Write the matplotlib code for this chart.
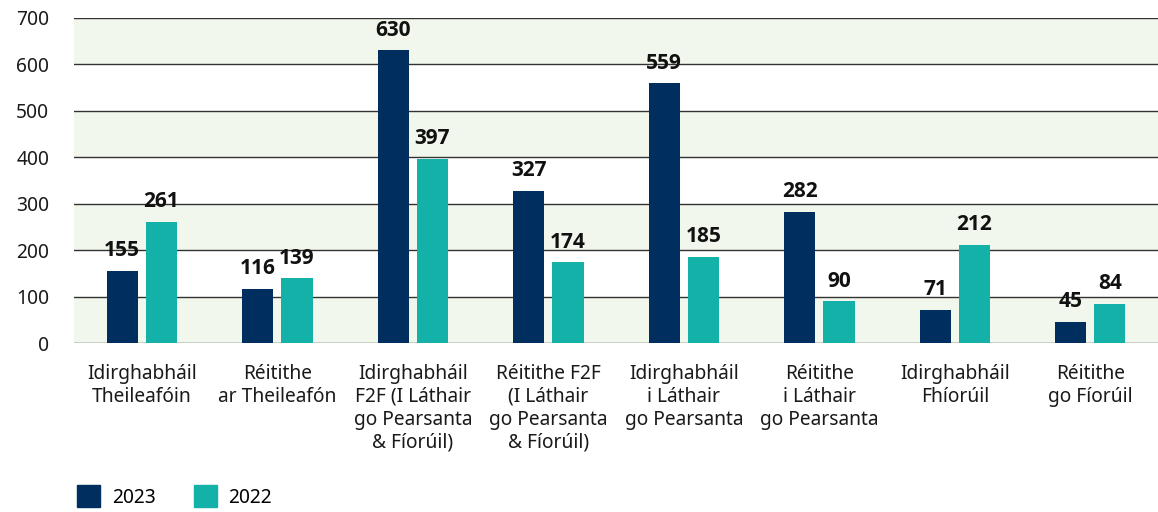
import numpy as np
import matplotlib
matplotlib.use('Agg')
from matplotlib import pyplot as plt
from matplotlib.patches import Patch

categories = [
    'Idirghabháil\nTheileafóin',
    'Réitithe\nar Theileafón',
    'Idirghabháil\nF2F (I Láthair\ngo Pearsanta\n& Fíorúil)',
    'Réitithe F2F\n(I Láthair\ngo Pearsanta\n& Fíorúil)',
    'Idirghabháil\ni Láthair\ngo Pearsanta',
    'Réitithe\ni Láthair\ngo Pearsanta',
    'Idirghabháil\nFhíorúil',
    'Réitithe\ngo Fíorúil',
]
values_2023 = [155, 116, 630, 327, 559, 282, 71, 45]
values_2022 = [261, 139, 397, 174, 185, 90, 212, 84]
y_ticks = [0, 100, 200, 300, 400, 500, 600, 700]

navy = '#002F5F'
teal = '#14B1A9'
band = '#F1F7EC'

plt.rcParams['font.family'] = ['Noto Sans', 'DejaVu Sans']

fig = plt.figure(figsize=(11.58, 5.12), dpi=100)
ax = fig.add_axes([0.064, 0.330, 0.936, 0.635])

x = np.arange(len(categories))
width = 0.23
offset = 0.145

for lo in range(0, 700, 200):
    ax.axhspan(lo, lo + 100, color=band, zorder=0, lw=0)
for t in y_ticks:
    ax.axhline(t, color='#333333', lw=1.0, zorder=1)

b1 = ax.bar(x - offset, values_2023, width, color=navy, zorder=2)
b2 = ax.bar(x + offset, values_2022, width, color=teal, zorder=2)

for bars in (b1, b2):
    for rect in bars:
        h = rect.get_height()
        ax.annotate(f'{int(h)}', (rect.get_x() + rect.get_width() / 2, h),
                    xytext=(0, 7), textcoords='offset points',
                    ha='center', va='bottom', fontsize=15, fontweight='bold',
                    family=['Open Sans', 'DejaVu Sans'], color='#111111')

ax.set_xlim(-0.5, len(categories) - 0.5)
ax.set_ylim(0, 700)
ax.set_yticks(y_ticks)
ax.set_xticks(x)
ax.set_xticklabels(categories, fontsize=13.8, linespacing=1.2)
ax.tick_params(axis='both', length=0, labelsize=13.8, colors='#1a1a1a')
ax.tick_params(axis='x', pad=15)
ax.tick_params(axis='y', pad=18)
for s in ax.spines.values():
    s.set_visible(False)

handles = [Patch(color=navy, label='2023'), Patch(color=teal, label='2022')]
fig.legend(handles=handles, loc='lower left', bbox_to_anchor=(0.052, -0.025),
           ncol=2, frameon=False, fontsize=13.8, handlelength=1.2,
           handleheight=1.4, columnspacing=2.0, handletextpad=0.6)

fig.savefig('out.png', dpi=100)
